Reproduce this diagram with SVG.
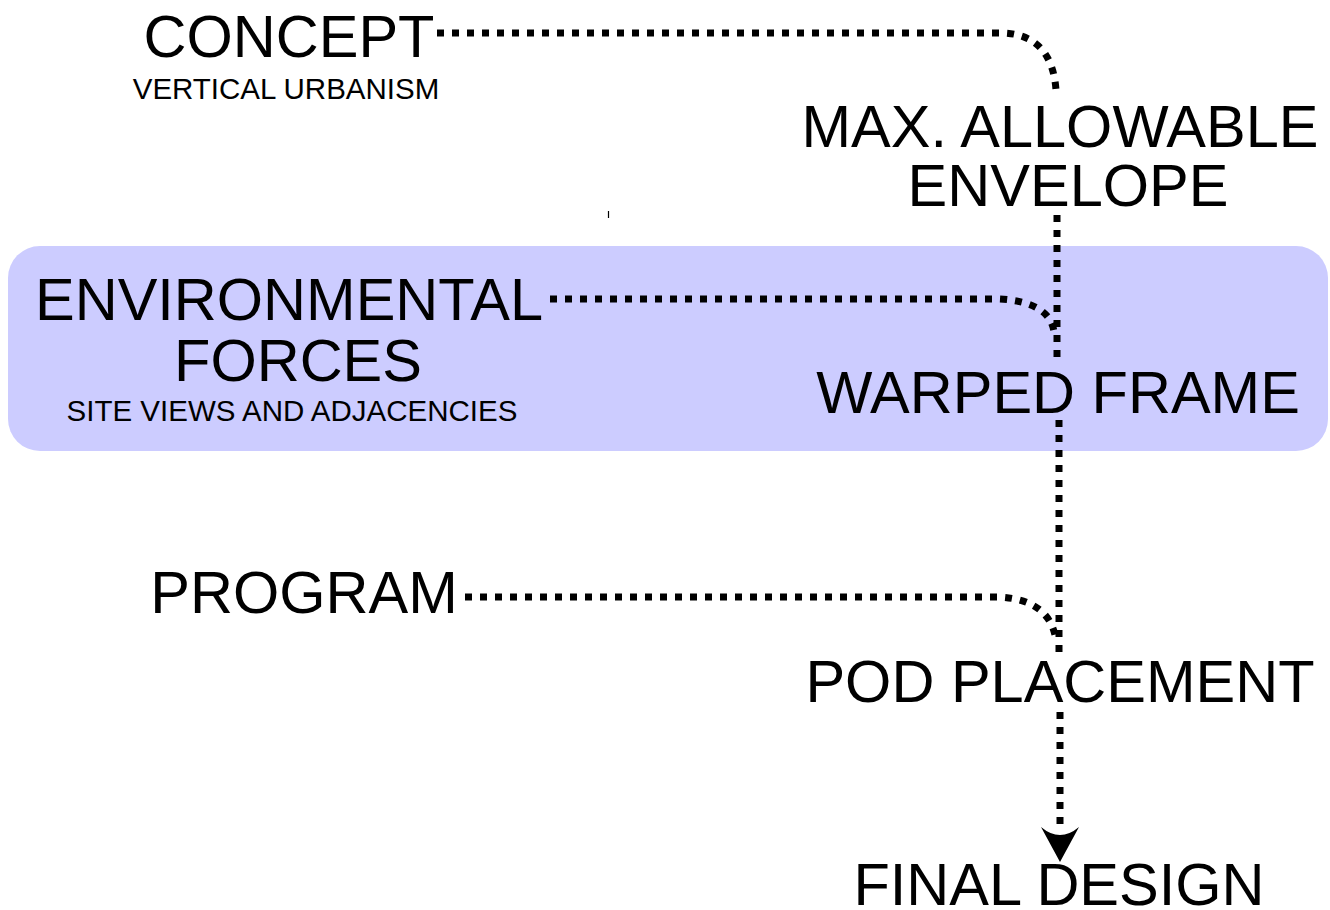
<svg xmlns="http://www.w3.org/2000/svg" width="1330" height="910" viewBox="0 0 1330 910">
<style>
.big{font-family:"Liberation Sans",Arial,sans-serif;font-size:59.5px;fill:#000;text-anchor:middle}
.small{font-family:"Liberation Sans",Arial,sans-serif;font-size:29.5px;fill:#000;text-anchor:middle}
.dot{fill:none;stroke:#000;stroke-width:7;stroke-dasharray:7 8}
</style>
<rect width="1330" height="910" fill="#fff"/>
<g id="band"><rect x="8" y="246" width="1320" height="205" rx="32" fill="#ccccff"/></g>
<line x1="608.5" y1="211" x2="608.5" y2="218" stroke="#000" stroke-width="1.2"/>
<g id="connectors">
<path class="dot" d="M437,33 L1005,33 Q1052,36 1056,90"/>
<path class="dot" d="M1057,215 L1057,360"/>
<path class="dot" d="M550,299 L1000,299 Q1050,302 1054,332"/>
<path class="dot" d="M1059,420 L1059,652"/>
<path class="dot" d="M465,597 L1000,597 Q1050,600 1056,640"/>
<path class="dot" d="M1060,712 L1060,824"/>
<path d="M1041,827 Q1060,843 1079,827 L1060,862 Z" fill="#000"/>
</g>
<g id="concept"><text class="big" x="289" y="57">CONCEPT</text><text class="small" x="286" y="99">VERTICAL URBANISM</text></g>
<g id="envelope"><text class="big" x="1060" y="147">MAX. ALLOWABLE</text><text class="big" x="1068" y="206">ENVELOPE</text></g>
<g id="environmental"><text class="big" x="289" y="320">ENVIRONMENTAL</text><text class="big" x="298" y="381">FORCES</text><text class="small" x="292" y="421">SITE VIEWS AND ADJACENCIES</text></g>
<g id="warped"><text class="big" x="1058" y="413">WARPED FRAME</text></g>
<g id="program"><text class="big" x="304" y="613">PROGRAM</text></g>
<g id="pod"><text class="big" x="1060" y="702">POD PLACEMENT</text></g>
<g id="final"><text class="big" x="1059" y="905">FINAL DESIGN</text></g>
</svg>
